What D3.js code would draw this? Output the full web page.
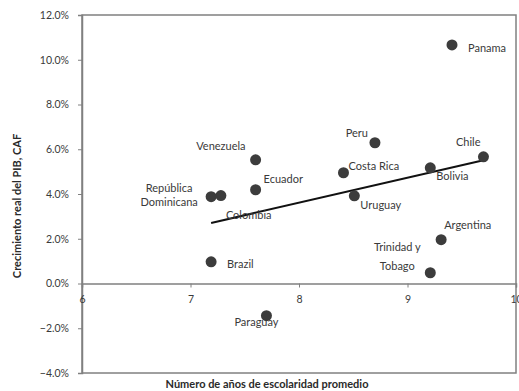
<!DOCTYPE html>
<html>
<head>
<meta charset="utf-8">
<script src="https://cdn.jsdelivr.net/npm/d3@7"></script>
<style>
  html, body { margin: 0; padding: 0; background: #fff; }
  svg { display: block; font-family: Lato, "Open Sans", sans-serif; }
</style>
</head>
<body>
<svg id="chart" width="519" height="391"></svg>
<script>
// Average years of schooling vs. real GDP growth (CAF), by country
const countries = ["Panama", "Peru", "Chile", "Venezuela", "Costa Rica", "Bolivia", "Ecuador",
  "República Dominicana", "Colombia", "Uruguay", "Brazil", "Argentina", "Trinidad y Tobago", "Paraguay"];
const schooling = [9.41, 8.70, 9.70, 7.60, 8.41, 9.21, 7.60, 7.19, 7.28, 8.51, 7.19, 9.31, 9.21, 7.70];
const growth = [0.1066, 0.0629, 0.0566, 0.0553, 0.0495, 0.0517, 0.0419, 0.0388, 0.0393, 0.0392, 0.0097, 0.0196, 0.0048, -0.0144];
const yTicks = [-0.04, -0.02, 0, 0.02, 0.04, 0.06, 0.08, 0.10, 0.12];
const xTicks = [6, 7, 8, 9, 10];

// Label placement per country: anchor, offsets and line breaks
const labelLayout = {
  "Panama": { anchor: "start", dx: 16, lines: [["Panama", 3]] },
  "Peru": { anchor: "end", dx: -7, lines: [["Peru", -10]] },
  "Chile": { anchor: "end", dx: -3, lines: [["Chile", -15]] },
  "Venezuela": { anchor: "end", dx: -10, lines: [["Venezuela", -14]] },
  "Costa Rica": { anchor: "start", dx: 5, lines: [["Costa Rica", -7]] },
  "Bolivia": { anchor: "start", dx: 6, lines: [["Bolivia", 8]] },
  "Ecuador": { anchor: "start", dx: 8, lines: [["Ecuador", -11]] },
  "República Dominicana": { anchor: "middle", dx: -42, lines: [["República", -9], ["Dominicana", 5]] },
  "Colombia": { anchor: "start", dx: 5, lines: [["Colombia", 19]] },
  "Uruguay": { anchor: "start", dx: 6, lines: [["Uruguay", 9]] },
  "Brazil": { anchor: "start", dx: 16, lines: [["Brazil", 2]] },
  "Argentina": { anchor: "start", dx: 3, lines: [["Argentina", -15]] },
  "Trinidad y Tobago": { anchor: "middle", dx: -33, lines: [["Trinidad y", -26], ["Tobago", -7]] },
  "Paraguay": { anchor: "middle", dx: -10, lines: [["Paraguay", 6]] }
};

const svg = d3.select("#chart");
const plot = { left: 82, right: 516, top: 15, bottom: 373 };
const axisColor = "#808080", textColor = "#3a3a3a";

const x = d3.scaleLinear().domain([6, 10]).range([plot.left, plot.right]);
const y = d3.scaleLinear().domain([-0.04, 0.12]).range([plot.bottom, plot.top]);

const points = countries.map((c, i) => ({ name: c, x: schooling[i], y: growth[i] }));

// Plot frame
svg.append("rect")
  .attr("x", plot.left).attr("y", plot.top)
  .attr("width", plot.right - plot.left).attr("height", plot.bottom - plot.top)
  .attr("fill", "none").attr("stroke", axisColor).attr("stroke-width", 1.5);

// Y axis
const yAxis = svg.append("g")
  .attr("transform", `translate(${plot.left},0)`)
  .call(d3.axisLeft(y).tickValues(yTicks).tickFormat(d3.format(".1%")).tickSize(4).tickPadding(9));
yAxis.select(".domain").attr("stroke", axisColor).attr("stroke-width", 1.5);
yAxis.selectAll(".tick line").attr("stroke", axisColor);
yAxis.selectAll(".tick text").attr("fill", textColor).style("font-size", "10.5px")
  .style("font-family", "Lato, sans-serif");

// X axis crossing at zero growth
const xAxis = svg.append("g")
  .attr("transform", `translate(0,${y(0)})`)
  .call(d3.axisBottom(x).tickValues(xTicks).tickFormat(d3.format("d")).tickSize(4).tickPadding(8));
xAxis.select(".domain").attr("stroke", axisColor).attr("stroke-width", 1.5);
xAxis.selectAll(".tick line").attr("stroke", axisColor);
xAxis.selectAll(".tick text").attr("fill", textColor).style("font-size", "10.5px")
  .style("font-family", "Lato, sans-serif");

// Least-squares trend line across the observed schooling range
const mx = d3.mean(points, d => d.x), my = d3.mean(points, d => d.y);
const slope = d3.sum(points, d => (d.x - mx) * (d.y - my)) / d3.sum(points, d => (d.x - mx) ** 2);
const intercept = my - slope * mx;
const [xmin, xmax] = d3.extent(points, d => d.x);
svg.append("line")
  .attr("x1", x(xmin)).attr("y1", y(intercept + slope * xmin))
  .attr("x2", x(xmax)).attr("y2", y(intercept + slope * xmax))
  .attr("stroke", "#111").attr("stroke-width", 2);

// Country markers
svg.append("g").selectAll("circle").data(points).join("circle")
  .attr("cx", d => x(d.x)).attr("cy", d => y(d.y)).attr("r", 5.5)
  .attr("fill", "#3c3c3c");

// Country labels
const labels = svg.append("g").style("font-size", "11px").attr("fill", textColor);
points.forEach(p => {
  const l = labelLayout[p.name];
  l.lines.forEach(([txt, dy]) => {
    labels.append("text")
      .attr("x", x(p.x) + l.dx).attr("y", y(p.y) + dy)
      .attr("text-anchor", l.anchor).attr("dominant-baseline", "central")
      .text(txt);
  });
});

// Axis titles
svg.append("text")
  .attr("transform", `translate(16,206) rotate(-90)`)
  .attr("text-anchor", "middle").attr("dominant-baseline", "central")
  .style("font-size", "11px").style("font-weight", "bold").attr("fill", "#2a2a2a")
  .text("Crecimiento real del PIB, CAF");
svg.append("text")
  .attr("x", 267).attr("y", 383)
  .attr("text-anchor", "middle").attr("dominant-baseline", "central")
  .style("font-size", "11px").style("font-weight", "bold").attr("fill", "#2a2a2a")
  .text("Número de años de escolaridad promedio");
</script>
</body>
</html>
